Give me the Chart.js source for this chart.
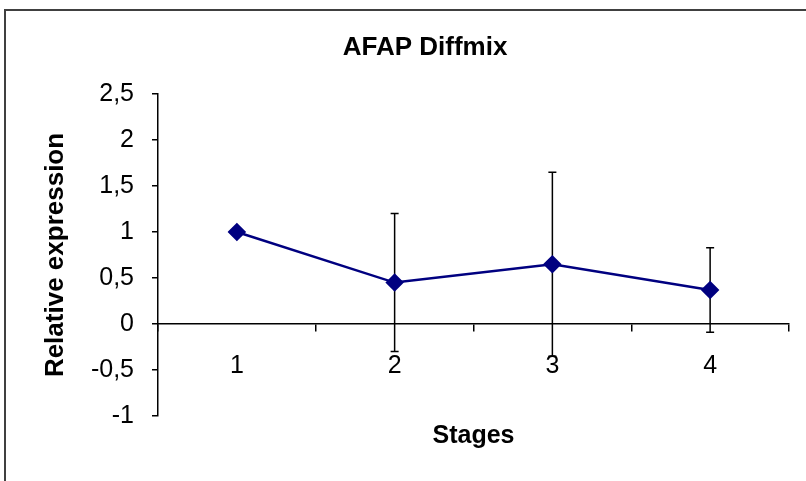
<!DOCTYPE html>
<html>
<head>
<meta charset="utf-8">
<script src="https://cdn.jsdelivr.net/npm/chart.js@4"></script>
<style>
  html, body { margin: 0; padding: 0; background: #fff; }
  #wrap { position: relative; width: 806px; height: 481px; overflow: hidden; }
  #frame { position: absolute; left: 4px; top: 9px; width: 900px; height: 600px;
           border-left: 2px solid #404040; border-top: 2px solid #404040; }
  canvas { position: absolute; left: 0; top: 0; }
</style>
</head>
<body>
<div id="wrap">
  <div id="frame"></div>
  <!-- the chart object is wider than the picture (it is cropped on the right) -->
  <canvas id="myChart" width="850" height="481"></canvas>
</div>

<script>
    // values
    const stages = ['1', '2', '3', '4'];
    const relExpression = [1, 0.45, 0.65, 0.37];
    const errorBars = [0, 0.75, 1.0, 0.46];
    const yTicks = [-1, -0.5, 0, 0.5, 1, 1.5, 2, 2.5];

    const FONT = "'Liberation Sans', Arial, sans-serif";
    Chart.defaults.color = '#000';
    Chart.defaults.font.family = FONT;

    // draws symmetric error bars using the y scale
    const errorBarPlugin = {
        id: 'errorBars',
        beforeDatasetsDraw(chart) {
            const ctx = chart.ctx;
            const meta = chart.getDatasetMeta(0);
            const y = chart.scales.y;
            ctx.save();
            ctx.strokeStyle = '#000';
            ctx.lineWidth = 1.5;
            meta.data.forEach((pt, i) => {
                const err = errorBars[i];
                if (!err) return;
                const top = y.getPixelForValue(relExpression[i] + err);
                const bot = y.getPixelForValue(relExpression[i] - err);
                ctx.beginPath();
                ctx.moveTo(pt.x, top);
                ctx.lineTo(pt.x, bot);
                ctx.moveTo(pt.x - 4, top);
                ctx.lineTo(pt.x + 4, top);
                ctx.moveTo(pt.x - 4, bot);
                ctx.lineTo(pt.x + 4, bot);
                ctx.stroke();
            });
            ctx.restore();
        }
    };

    const ctx = document.getElementById('myChart').getContext('2d');
    const myChart = new Chart(ctx, {
        type: 'line',
        data: {
            labels: stages,
            datasets: [{
                label: 'AFAP Diffmix',
                data: relExpression,
                borderColor: '#000080',
                backgroundColor: '#000080',
                borderWidth: 2.5,
                pointStyle: 'rectRot',
                pointRadius: 7.5,
                pointHoverRadius: 7.5,
                tension: 0
            }]
        },
        plugins: [errorBarPlugin],
        options: {
            responsive: false,
            animation: false,
            layout: { padding: { left: 0, right: 0, top: 0, bottom: 29 } },
            plugins: {
                legend: { display: false },
                tooltip: { enabled: false },
                title: {
                    display: true,
                    text: 'AFAP Diffmix',
                    color: '#000',
                    font: { size: 26, weight: 'bold', family: FONT },
                    padding: { top: 32, bottom: 30.8 }
                }
            },
            scales: {
                x: {
                    type: 'category',
                    position: { y: 0 },
                    offset: true,
                    grid: {
                        offset: true,
                        drawOnChartArea: false,
                        drawTicks: true,
                        tickLength: 7,
                        color: '#000',
                        lineWidth: 1.5
                    },
                    border: { display: true, color: '#000', width: 1.5 },
                    ticks: { font: { size: 25 }, padding: 20, maxRotation: 0 }
                },
                x2: {
                    axis: 'x',
                    type: 'category',
                    labels: stages,
                    position: 'bottom',
                    grid: { display: false, drawTicks: false },
                    border: { display: false },
                    ticks: { display: false },
                    title: {
                        display: true,
                        text: 'Stages',
                        font: { size: 25, weight: 'bold' },
                        padding: { top: 5, bottom: 1 }
                    }
                },
                y: {
                    min: -1,
                    max: 2.5,
                    afterFit(scale) { scale.width = 158; },
                    afterBuildTicks(scale) { scale.ticks = yTicks.map(v => ({ value: v })); },
                    grid: {
                        drawOnChartArea: false,
                        drawTicks: true,
                        tickLength: 6,
                        color: '#000',
                        lineWidth: 1.5
                    },
                    border: { display: true, color: '#000', width: 1.5 },
                    ticks: {
                        font: { size: 25 },
                        padding: 18,
                        callback: v => String(v).replace('.', ',')
                    },
                    title: {
                        display: true,
                        text: 'Relative expression',
                        font: { size: 26, weight: 'bold' },
                        padding: { top: 40, bottom: 0 }
                    }
                },
                // empty spacer on the right: rest of the (cropped) chart object
                yRight: {
                    axis: 'y',
                    type: 'linear',
                    position: 'right',
                    min: -1,
                    max: 2.5,
                    afterFit(scale) { scale.width = 61; },
                    grid: { display: false, drawTicks: false },
                    border: { display: false },
                    ticks: { display: false }
                }
            }
        }
    });
</script>
</body>
</html>
